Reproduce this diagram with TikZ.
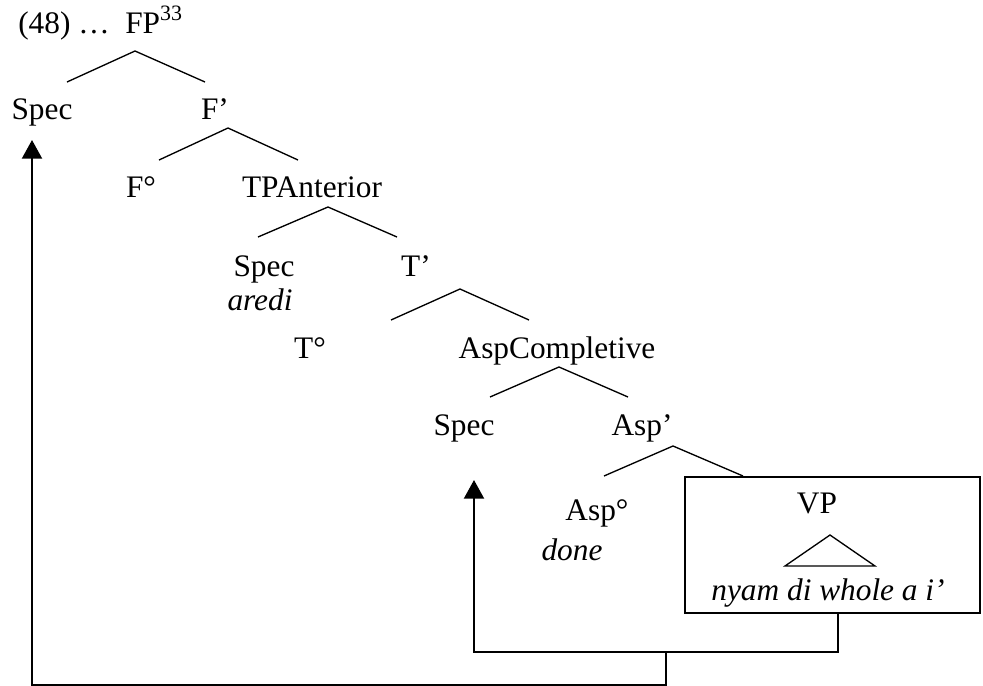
\documentclass[tikz,border=0pt]{standalone}
\usepackage{fontspec}
\setmainfont{Liberation Serif}
\usetikzlibrary{arrows.meta}
\begin{document}
\begin{tikzpicture}[
  x=0.75pt, y=-0.75pt,
  lbl/.style={inner sep=0pt, anchor=base, font=\fontsize{23.5}{28}\selectfont},
  lblw/.style={lbl, anchor=base west},
  branch/.style={line width=1pt},
  frame/.style={line width=1.6pt},
  move/.style={line width=1.6pt, -{Triangle[width=15pt,length=14pt]}},
]
\useasboundingbox (0,0) rectangle (983,686);

% labels of the tree
\node[lblw] (ex)     at (18,33)   {(48) …};
\node[lblw] (fp)     at (125,33)  {FP\textsuperscript{33}};
\node[lbl]  (spec1)  at (42,119)  {Spec};
\node[lbl]  (fbar)   at (215,119) {F’};
\node[lbl]  (fzero)  at (141,197) {F°};
\node[lbl]  (tp)     at (312,197) {TPAnterior};
\node[lbl]  (spec2)  at (264,276) {Spec};
\node[lbl]  (aredi)  at (260,310) {\itshape aredi};
\node[lbl]  (tbar)   at (416,276) {T’};
\node[lbl]  (tzero)  at (310,358) {T°};
\node[lbl]  (asp)    at (557,358) {AspCompletive};
\node[lbl]  (spec3)  at (464,435) {Spec};
\node[lbl]  (aspbar) at (642,435) {Asp’};
\node[lbl]  (aspzero) at (597,520) {Asp°};
\node[lbl]  (done)   at (572,560) {\itshape done};
\node[lbl]  (vp)     at (817,513) {VP};
\node[lbl]  (nyam)   at (828,600) {\itshape nyam di whole a i’};

% branches: name / apex / left end / right end
\foreach \n/\ax/\ay/\lx/\rx/\by in {
    fpb/135/51/67/205/82,
    fbarb/228/128/159/298/160,
    tpb/328/207/258/397/237,
    tbarb/460/289/391/529/320,
    aspb/559/367/490/628/397,
    aspbarb/673/446/604/743/476}{
  \coordinate (\n-top) at (\ax,\ay);
  \coordinate (\n-l) at (\lx,\by);
  \coordinate (\n-r) at (\rx,\by);
  \draw[branch] (\n-l) -- (\n-top) -- (\n-r);
}

% VP frame and its triangle
\coordinate (box-nw) at (685,477);
\coordinate (box-se) at (980,613);
\draw[frame] (box-nw) rectangle (box-se);
\coordinate (tri-top) at (830,535);
\coordinate (tri-l) at (785,566);
\coordinate (tri-r) at (875,566);
\draw[branch] (tri-l) -- (tri-top) -- (tri-r) -- cycle;

% movement arrows
\coordinate (vpfoot) at (838,613);
\coordinate (join) at (666,652);
\coordinate (spec3-tip) at (474,480);
\coordinate (spec1-tip) at (32,140);
\coordinate (floor) at (666,685);
\draw[move] (vpfoot) |- (join) -| (spec3-tip);
\draw[move] (join) -- (floor) -| (spec1-tip);
\end{tikzpicture}
\end{document}
